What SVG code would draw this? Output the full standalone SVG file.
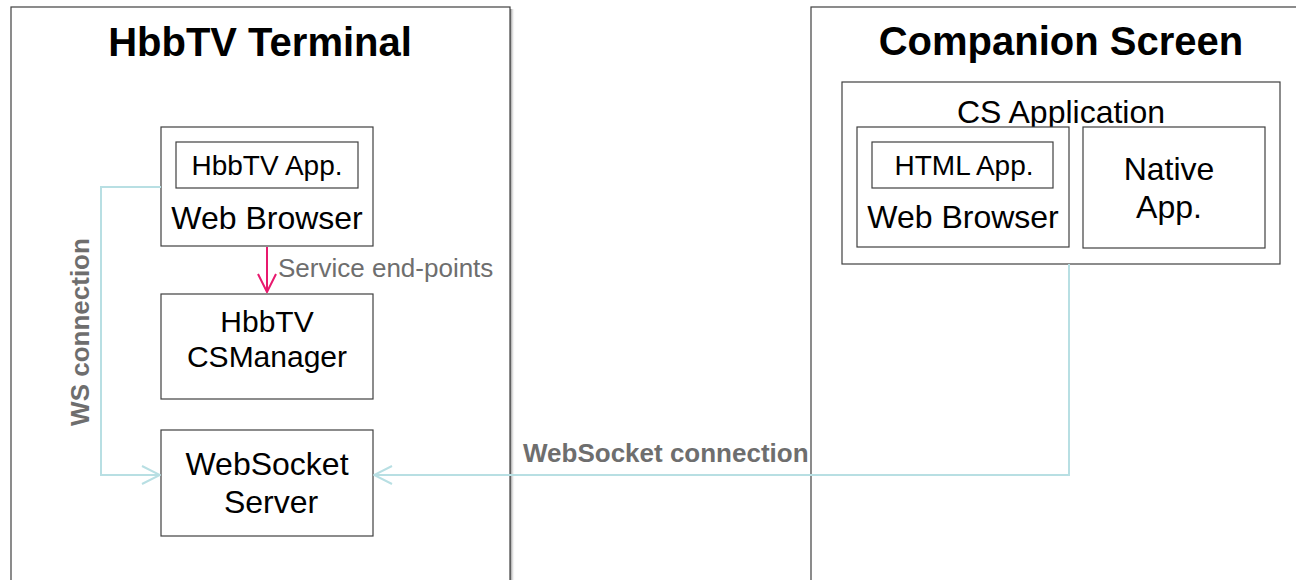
<svg xmlns="http://www.w3.org/2000/svg" width="1296" height="580" viewBox="0 0 1296 580">
<style>
.box{fill:#fff;stroke:#404040;stroke-width:1.2}
.t{font-family:"Liberation Sans",Arial,sans-serif;fill:#000;text-anchor:middle}
.title{font-size:40px;font-weight:bold}
.big{font-size:32px}
.mid{font-size:30px}
.small{font-size:28px}
.lbl{font-family:"Liberation Sans",Arial,sans-serif;fill:#6e6e6e;font-size:26px}
.bold{font-weight:bold}
.ws{fill:none;stroke:#b8dfe3;stroke-width:2}
</style>
<defs>
<linearGradient id="sh" x1="0" x2="1" y1="0" y2="0">
<stop offset="0" stop-color="#777"/>
<stop offset="1" stop-color="#fff" stop-opacity="0"/>
</linearGradient>
<marker id="ab" viewBox="0 0 20 20" refX="19" refY="10" markerWidth="20" markerHeight="20" markerUnits="userSpaceOnUse" orient="auto">
<path d="M1,1 L19,10 L1,19" fill="none" stroke="#b8dfe3" stroke-width="2"/>
</marker>
<marker id="ap" viewBox="0 0 20 20" refX="19" refY="10" markerWidth="20" markerHeight="20" markerUnits="userSpaceOnUse" orient="auto">
<path d="M1,1 L19,10 L1,19" fill="none" stroke="#e8196e" stroke-width="2"/>
</marker>
</defs>
<rect width="1296" height="580" fill="#fff"/>
<g id="hbbtv-terminal">
<rect x="510" y="9" width="5" height="575" fill="url(#sh)"/>
<rect x="11" y="7" width="499" height="580" class="box"/>
<text x="260" y="56" class="t title">HbbTV Terminal</text>
</g>
<g id="companion-screen">
<rect x="811" y="7" width="500" height="580" class="box"/>
<text x="1061" y="55" class="t title">Companion Screen</text>
</g>
<g id="web-browser">
<rect x="161" y="127" width="212" height="119" class="box"/>
<rect x="176" y="142" width="182" height="46" class="box"/>
<text x="267" y="175" class="t small">HbbTV App.</text>
<text x="267" y="229" class="t big">Web Browser</text>
</g>
<g id="csmanager">
<rect x="161" y="294" width="212" height="105" class="box"/>
<text x="267" y="332" class="t mid">HbbTV</text>
<text x="267" y="367" class="t mid">CSManager</text>
</g>
<g id="websocket-server">
<rect x="161" y="430" width="212" height="106" class="box"/>
<text x="267" y="475" class="t big">WebSocket</text>
<text x="271" y="513" class="t big">Server</text>
</g>
<g id="cs-application">
<rect x="842" y="82" width="438" height="182" class="box"/>
<text x="1061" y="123" class="t big">CS Application</text>
<rect x="857" y="127" width="212" height="120" class="box"/>
<rect x="872" y="142" width="181" height="46" class="box"/>
<text x="964" y="175" class="t small">HTML App.</text>
<text x="963" y="228" class="t big">Web Browser</text>
<rect x="1083" y="127" width="182" height="121" class="box"/>
<text x="1169" y="180" class="t big">Native</text>
<text x="1169" y="218" class="t big">App.</text>
</g>
<g id="connectors">
<path d="M267,247 V292" fill="none" stroke="#e8196e" stroke-width="2" marker-end="url(#ap)"/>
<text x="278" y="277" class="lbl">Service end-points</text>
<path d="M161,187 H101 V475 H160" class="ws" marker-end="url(#ab)"/>
<text x="0" y="0" class="lbl bold" text-anchor="middle" transform="translate(89,332) rotate(-90)">WS connection</text>
<path d="M1069,264 V475 H374" class="ws" marker-end="url(#ab)"/>
<text x="523" y="462" class="lbl bold">WebSocket connection</text>
</g>
</svg>
